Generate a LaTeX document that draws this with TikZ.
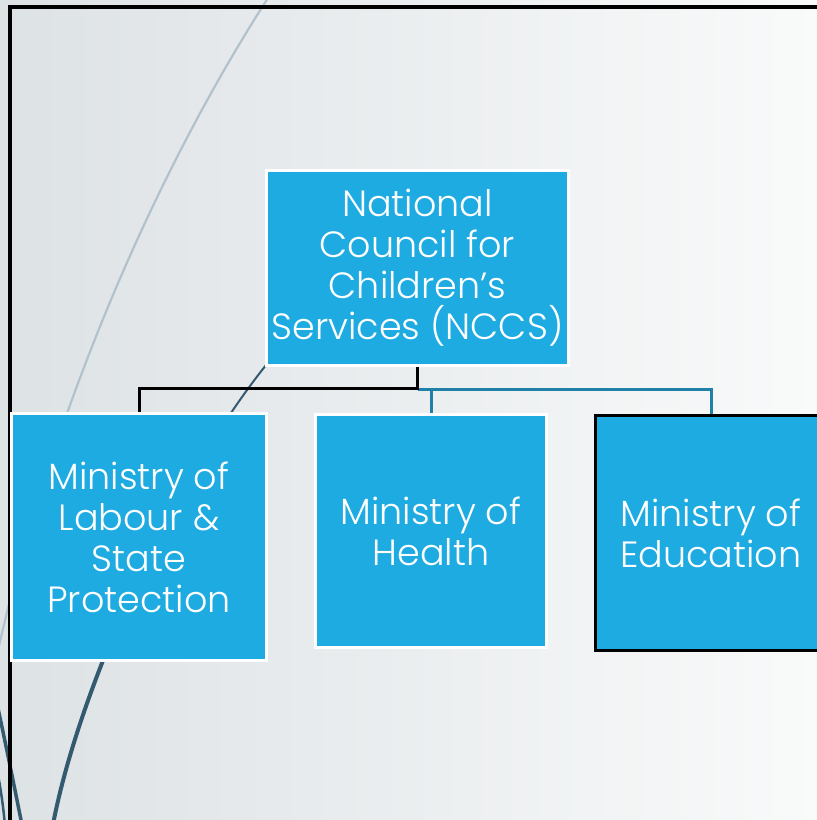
\documentclass[tikz,border=0pt]{standalone}
\usepackage{fontspec}
\setmainfont{Poppins}[UprightFont={* Light}]
\definecolor{boxblue}{RGB}{30,171,226}
\definecolor{linkblue}{RGB}{32,128,168}
\definecolor{wisp}{RGB}{52,90,112}
\definecolor{wispl}{RGB}{178,194,205}
\definecolor{bgl}{RGB}{221,226,229}
\definecolor{bgr}{RGB}{249,250,250}
\tikzset{
  orgbox/.style={rectangle, fill=boxblue, draw=white, line width=2.5pt, text=white,
    align=center, inner sep=0pt, font=\fontsize{36.5}{41}\selectfont},
  blackedge/.style={draw=black, line width=3pt},
  blueedge/.style={draw=linkblue, line width=3pt}
}
\begin{document}
\begin{tikzpicture}[x=1pt,y=-1pt]
\useasboundingbox (0,0) rectangle (817,820);
\shade[left color=bgl, right color=bgr] (0,0) rectangle (817,820);
% decorative curves
\draw[wispl, line width=2.2pt] (268,-2) .. controls (170,150) and (60,380) .. (-2,650);
\draw[wisp, line width=2pt] (275,354) .. controls (170,480) and (75,700) .. (52,830);
\begin{scope}
  \clip (0,660) rectangle (300,820);
  \draw[wisp, line width=4pt] (275,354) .. controls (170,480) and (75,700) .. (52,830);
\end{scope}
\draw[wisp, line width=3.5pt] (-6,690) .. controls (5,740) and (15,790) .. (22,825);
\draw[wisp, line width=2.5pt] (-3,770) .. controls (1,790) and (3,805) .. (5,825);
% frame
\draw[black, line width=4pt] (10,822) -- (10,7) -- (819,7);
% nodes
\node[orgbox, minimum width=302pt, minimum height=195pt] (nccs) at (417.5,268) {National\\Council for\\Children’s\\Services (NCCS)};
\node[orgbox, minimum width=255pt, minimum height=247pt] (labour) at (139,537) {Ministry of\\Labour \&\\State\\Protection};
\node[orgbox, minimum width=231pt, minimum height=233pt] (health) at (431,531) {Ministry of\\Health};
\node[orgbox, draw=black, line width=3.5pt, minimum width=231pt, minimum height=235pt] (edu) at (711,533) {Ministry of\\Education};
% connectors
\coordinate (jn) at (417.5,388);
\coordinate (jb) at (417.5,389.5);
\draw[blueedge] (jb) -| (edu.north);
\draw[blueedge] (jb -| health.north) -- (health.north);
\draw[blackedge] (nccs.south) -- (jn) -| (labour.north);
\end{tikzpicture}
\end{document}
